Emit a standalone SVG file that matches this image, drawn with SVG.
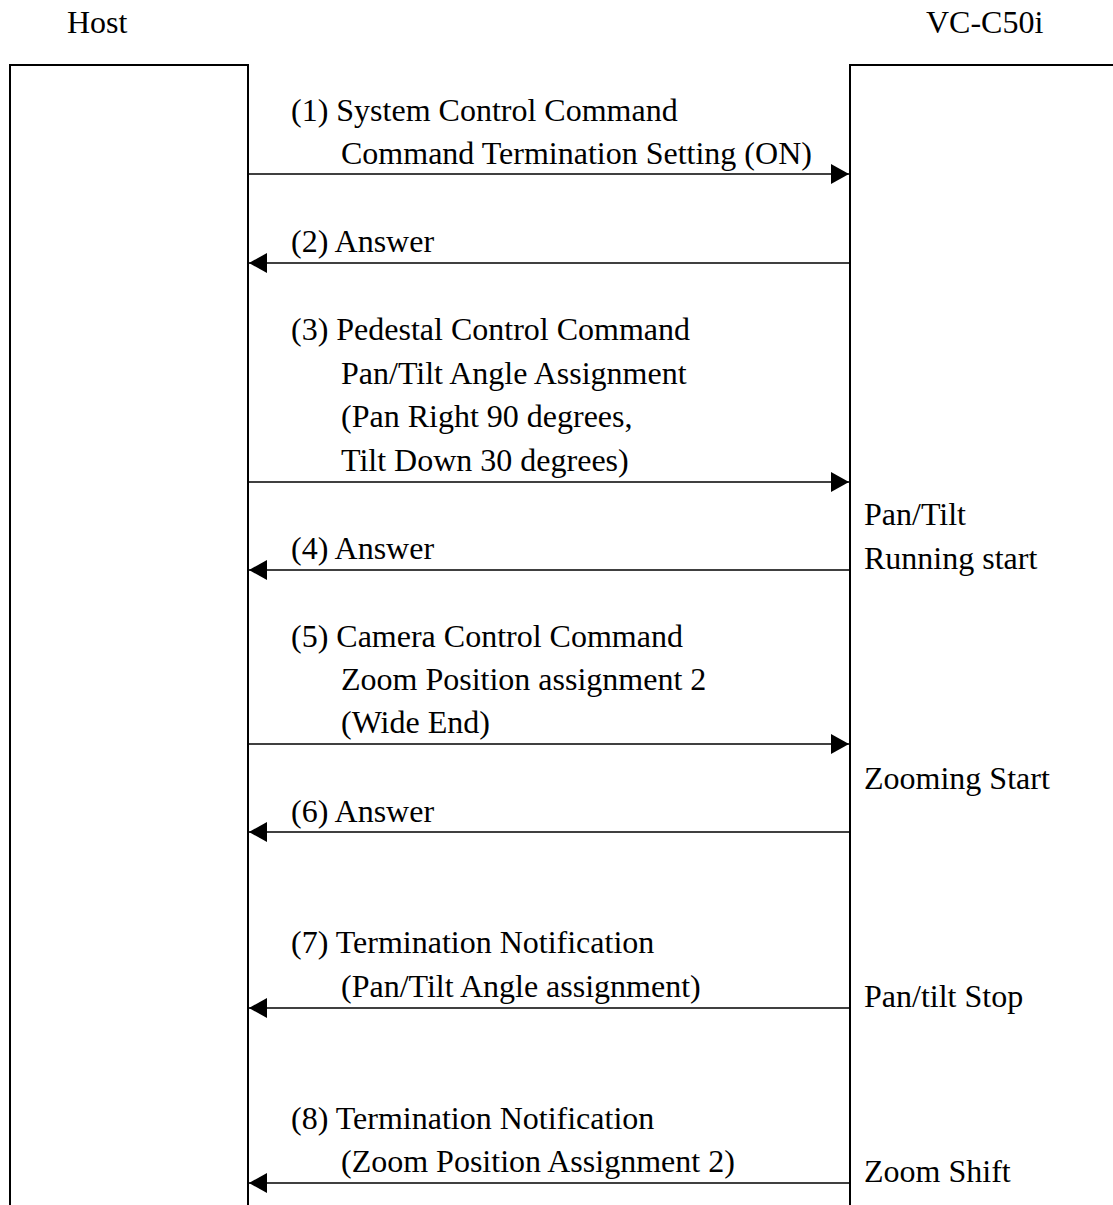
<svg xmlns="http://www.w3.org/2000/svg" width="1113" height="1205" viewBox="0 0 1113 1205">
<style>
text{font-family:"Liberation Serif","Times New Roman",serif;font-size:32px;fill:#000}
.box{fill:none;stroke:#000;stroke-width:2}
.msg{stroke:#000;stroke-width:1.6;fill:none}
</style>
<defs>
<marker id="ah" viewBox="0 0 18 20" refX="18" refY="10" markerWidth="18" markerHeight="20" markerUnits="userSpaceOnUse" orient="auto">
<path d="M0,0 L18,10 L0,20 Z" fill="#000"/>
</marker>
</defs>
<rect width="1113" height="1205" fill="#fff"/>
<g id="host">
<text x="67" y="33">Host</text>
<path class="box" d="M10,1210 V65 H248 V1210"/>
</g>
<g id="camera">
<text x="926" y="33">VC-C50i</text>
<path class="box" d="M850,1210 V65 H1120"/>
</g>
<g id="connectors">
<line class="msg" x1="248" y1="174" x2="849" y2="174" marker-end="url(#ah)"/>
<line class="msg" x1="850" y1="263" x2="249" y2="263" marker-end="url(#ah)"/>
<line class="msg" x1="248" y1="482" x2="849" y2="482" marker-end="url(#ah)"/>
<line class="msg" x1="850" y1="570" x2="249" y2="570" marker-end="url(#ah)"/>
<line class="msg" x1="248" y1="744" x2="849" y2="744" marker-end="url(#ah)"/>
<line class="msg" x1="850" y1="832" x2="249" y2="832" marker-end="url(#ah)"/>
<line class="msg" x1="850" y1="1008" x2="249" y2="1008" marker-end="url(#ah)"/>
<line class="msg" x1="850" y1="1183" x2="249" y2="1183" marker-end="url(#ah)"/>
</g>
<g id="labels">
<text x="291" y="121">(1) System Control Command</text>
<text x="341" y="164">Command Termination Setting (ON)</text>
<text x="291" y="252">(2) Answer</text>
<text x="291" y="340">(3) Pedestal Control Command</text>
<text x="341" y="384">Pan/Tilt Angle Assignment</text>
<text x="341" y="427">(Pan Right 90 degrees,</text>
<text x="341" y="471">Tilt Down 30 degrees)</text>
<text x="291" y="559">(4) Answer</text>
<text x="291" y="647">(5) Camera Control Command</text>
<text x="341" y="690">Zoom Position assignment 2</text>
<text x="341" y="733">(Wide End)</text>
<text x="291" y="822">(6) Answer</text>
<text x="291" y="953">(7) Termination Notification</text>
<text x="341" y="997">(Pan/Tilt Angle assignment)</text>
<text x="291" y="1129">(8) Termination Notification</text>
<text x="341" y="1172">(Zoom Position Assignment 2)</text>
</g>
<g id="states">
<text x="864" y="525">Pan/Tilt</text>
<text x="864" y="569">Running start</text>
<text x="864" y="789">Zooming Start</text>
<text x="864" y="1007">Pan/tilt Stop</text>
<text x="864" y="1182">Zoom Shift</text>
</g>
</svg>
